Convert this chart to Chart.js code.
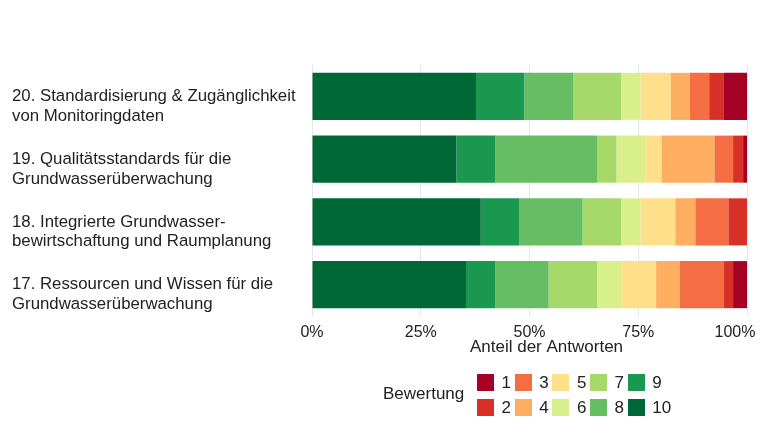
<!DOCTYPE html>
<html>
<head>
<meta charset="utf-8">
<script src="https://cdn.jsdelivr.net/npm/chart.js@4.4.1/dist/chart.umd.min.js"></script>
<style>
  body { margin: 0; background: #fff; width: 760px; height: 440px; position: relative; overflow: hidden;
         font-family: "Liberation Sans", Arial, sans-serif; color: #222; }
  #wrap { position: absolute; left: 0; top: 0; width: 760px; height: 356px; }
  #legend { position: absolute; left: 0; top: 0; width: 760px; height: 440px; pointer-events: none; }
  #legend .ttl { position: absolute; left: 383px; top: 384px; font-size: 17px; }
  #legend .sw { position: absolute; width: 17px; height: 17px; }
  #legend .lb { position: absolute; font-size: 17px; line-height: 17px; }
</style>
</head>
<body>
<div id="wrap"><canvas id="chart"></canvas></div>
<div id="legend"><div class="ttl">Bewertung</div></div>
<script>
// categories, top to bottom
var categories = [
  ['20. Standardisierung & Zugänglichkeit', 'von Monitoringdaten'],
  ['19. Qualitätsstandards für die', 'Grundwasserüberwachung'],
  ['18. Integrierte Grundwasser-', 'bewirtschaftung und Raumplanung'],
  ['17. Ressourcen und Wissen für die', 'Grundwasserüberwachung']
];

var ratings = ['1', '2', '3', '4', '5', '6', '7', '8', '9', '10'];
var colors = ['#a50026', '#d73027', '#f46d43', '#fdae61', '#fee08b',
              '#d9ef8b', '#a6d96a', '#66bd63', '#1a9850', '#006837'];

// share of answers (%) per rating, same order as categories
var r1  = [5.3, 0.9, 0.0, 3.2];
var r2  = [3.4, 2.3, 4.3, 2.1];
var r3  = [4.5, 4.3, 7.6, 10.1];
var r4  = [4.4, 12.2, 4.6, 5.5];
var r5  = [6.9, 3.7, 8.0, 8.0];
var r6  = [4.4, 6.6, 4.4, 5.5];
var r7  = [11.0, 4.4, 8.9, 11.2];
var r8  = [11.3, 23.5, 14.5, 12.3];
var r9  = [11.1, 8.9, 8.9, 6.7];
var r10 = [37.7, 33.2, 38.8, 35.4];

var xTicks = [0, 25, 50, 75, 100];

var series = [r1, r2, r3, r4, r5, r6, r7, r8, r9, r10];
var font = '"Liberation Sans", Arial, sans-serif';

// 10 is drawn first (left), 1 last (right)
var datasets = [];
for (var i = ratings.length - 1; i >= 0; i--) {
  datasets.push({
    label: ratings[i],
    data: series[i],
    backgroundColor: colors[i],
    borderWidth: 0,
    barPercentage: 0.75,
    categoryPercentage: 1.0
  });
}

new Chart(document.getElementById('chart').getContext('2d'), {
  type: 'bar',
  data: {
    // empty first line keeps the first text line on the bar centre
    labels: categories.map(function (c) { return [''].concat(c); }),
    datasets: datasets
  },
  options: {
    indexAxis: 'y',
    responsive: true,
    maintainAspectRatio: false,
    animation: false,
    layout: { padding: { left: 12, right: 13, top: 65, bottom: 0 } },
    plugins: { legend: { display: false }, tooltip: { enabled: false } },
    scales: {
      x: {
        stacked: true,
        min: 0,
        max: 100,
        afterBuildTicks: function (scale) {
          scale.ticks = xTicks.map(function (v) { return { value: v }; });
        },
        afterFit: function (scale) { scale.paddingRight = 0; scale.paddingLeft = 0; },
        grid: { color: '#e6e6e6', drawTicks: false },
        border: { display: false },
        ticks: {
          padding: 9,
          color: '#222',
          font: { family: font, size: 16, lineHeight: 1 },
          callback: function (v) { return v === 100 ? '100%\u2002\u2002\u2002' : v + '%'; }
        },
        title: {
          display: true,
          text: '\u2002\u2002\u2002\u2002Anteil der Antworten',
          color: '#222',
          padding: { top: -11, bottom: 0 },
          font: { family: font, size: 17, lineHeight: 1 }
        }
      },
      y: {
        stacked: true,
        afterFit: function (scale) { scale.width = 300; },
        grid: { display: false },
        border: { display: false },
        ticks: {
          autoSkip: false,
          crossAlign: 'far',
          color: '#222',
          font: { family: font, size: 16.8, lineHeight: 1.18 }
        }
      }
    }
  }
});

// legend: two rows, filled column by column
var legend = document.getElementById('legend');
for (var k = 0; k < ratings.length; k++) {
  var col = Math.floor(k / 2), row = k % 2;
  var sx = 477 + col * 37.7, sy = 374 + row * 25;
  var sw = document.createElement('div');
  sw.className = 'sw';
  sw.style.left = sx + 'px';
  sw.style.top = sy + 'px';
  sw.style.background = colors[k];
  legend.appendChild(sw);
  var lb = document.createElement('div');
  lb.className = 'lb';
  lb.style.left = (sx + 24.5) + 'px';
  lb.style.top = sy + 'px';
  lb.textContent = ratings[k];
  legend.appendChild(lb);
}
</script>
</body>
</html>
